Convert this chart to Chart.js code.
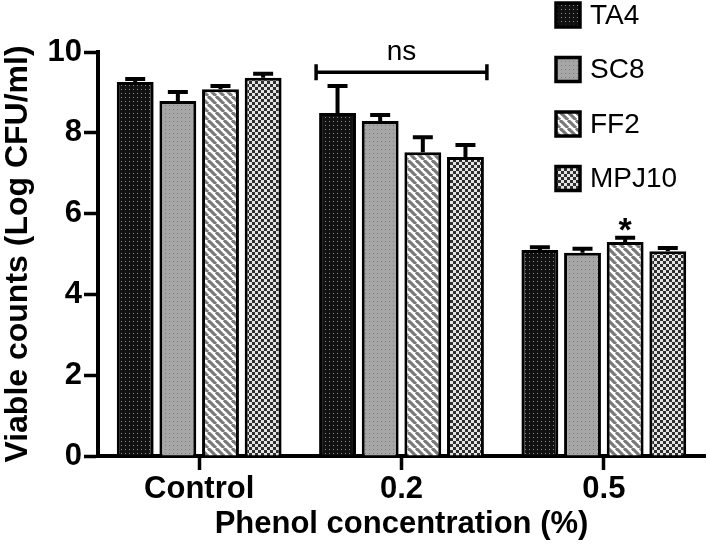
<!DOCTYPE html>
<html>
<head>
<meta charset="utf-8">
<script src="https://cdn.jsdelivr.net/npm/chart.js@4.4.0/dist/chart.umd.min.js"></script>
<style>
html, body { margin: 0; padding: 0; background: #fff; }
</style>
</head>
<body>
<canvas id="viableChart" width="709" height="555"></canvas>
<script>
// data
const categories = ['Control', '0.2', '0.5'];
const strains = ['TA4', 'SC8', 'FF2', 'MPJ10'];
const ta4 = [9.26, 8.49, 5.10];
const sc8 = [8.79, 8.29, 5.03];
const ff2 = [9.08, 7.52, 5.30];
const mpj10 = [9.36, 7.40, 5.07];
const ta4Err = [0.07, 0.67, 0.07];
const sc8Err = [0.22, 0.15, 0.10];
const ff2Err = [0.08, 0.37, 0.10];
const mpj10Err = [0.10, 0.30, 0.08];
const yTicks = [0, 2, 4, 6, 8, 10];

const FONT = '"Liberation Sans", Arial, sans-serif';
const canvas = document.getElementById('viableChart');
const ctx = canvas.getContext('2d');

function makePattern(size, draw) {
    const c = document.createElement('canvas');
    c.width = size;
    c.height = size;
    draw(c.getContext('2d'), size);
    return ctx.createPattern(c, 'repeat');
}

const dotsDark = makePattern(4, (g) => {
    g.fillStyle = '#111';
    g.fillRect(0, 0, 4, 4);
    g.fillStyle = '#8c8c8c';
    g.fillRect(1, 1, 1, 1);
});
const dotsGray = makePattern(4, (g) => {
    g.fillStyle = '#a6a6a6';
    g.fillRect(0, 0, 4, 4);
    g.fillStyle = '#7c7c7c';
    g.fillRect(1, 1, 1, 1);
});
const stripes = makePattern(8, (g, s) => {
    g.fillStyle = '#fff';
    g.fillRect(0, 0, s, s);
    g.strokeStyle = '#7a7a7a';
    g.lineWidth = 3.2;
    for (let k = -1; k <= 1; k++) {
        g.beginPath();
        g.moveTo(k * s, 0);
        g.lineTo(k * s + s, s);
        g.stroke();
    }
});
const checker = makePattern(6, (g) => {
    g.fillStyle = '#e4e4e4';
    g.fillRect(0, 0, 6, 6);
    g.fillStyle = '#2f2f2f';
    g.fillRect(0, 0, 3, 3);
    g.fillRect(3, 3, 3, 3);
});

const seriesValues = [ta4, sc8, ff2, mpj10];
const seriesErrors = [ta4Err, sc8Err, ff2Err, mpj10Err];
const fills = [dotsDark, dotsGray, stripes, checker];

// upper error bars with caps
const errorBars = {
    id: 'errorBars',
    afterDatasetsDraw(chart) {
        const y = chart.scales.y;
        const c = chart.ctx;
        c.save();
        c.strokeStyle = '#000';
        c.lineWidth = 4;
        chart.data.datasets.forEach((ds, i) => {
            chart.getDatasetMeta(i).data.forEach((bar, j) => {
                const top = y.getPixelForValue(ds.data[j] + seriesErrors[i][j]);
                c.beginPath();
                c.moveTo(bar.x, bar.y);
                c.lineTo(bar.x, top);
                c.moveTo(bar.x - 10, top);
                c.lineTo(bar.x + 10, top);
                c.stroke();
            });
        });
        c.restore();
    }
};

// "ns" bracket over 0.2 and asterisk over FF2 at 0.5
const marks = {
    id: 'marks',
    afterDatasetsDraw(chart) {
        const y = chart.scales.y;
        const c = chart.ctx;
        const first = chart.getDatasetMeta(0).data[1];
        const last = chart.getDatasetMeta(3).data[1];
        const x1 = first.x - first.width / 2 - 3;
        const x2 = last.x + last.width / 2 + 3;
        const by = y.getPixelForValue(9.5);
        c.save();
        c.strokeStyle = '#000';
        c.lineWidth = 3.5;
        c.beginPath();
        c.moveTo(x1, by);
        c.lineTo(x2, by);
        c.moveTo(x1, by - 8);
        c.lineTo(x1, by + 8);
        c.moveTo(x2, by - 8);
        c.lineTo(x2, by + 8);
        c.stroke();
        c.fillStyle = '#000';
        c.textAlign = 'center';
        c.textBaseline = 'alphabetic';
        c.font = '28px ' + FONT;
        c.fillText('ns', (x1 + x2) / 2, y.getPixelForValue(9.8));
        const star = chart.getDatasetMeta(2).data[2];
        c.font = 'bold 34px ' + FONT;
        c.fillText('*', star.x, y.getPixelForValue(5.33));
        c.restore();
    }
};

// vertical legend in the top right corner
const sideLegend = {
    id: 'sideLegend',
    afterDraw(chart) {
        const c = chart.ctx;
        c.save();
        c.font = '28px ' + FONT;
        c.textBaseline = 'middle';
        c.textAlign = 'left';
        chart.data.datasets.forEach((ds, i) => {
            const top = 3 + i * 54.5;
            c.fillStyle = ds.backgroundColor;
            c.fillRect(556, top, 24, 24);
            c.strokeStyle = '#000';
            c.lineWidth = 3.5;
            c.strokeRect(556, top, 24, 24);
            c.fillStyle = '#000';
            c.fillText(ds.label, 590, top + 13);
        });
        c.restore();
    }
};

new Chart(ctx, {
    type: 'bar',
    data: {
        labels: categories,
        datasets: strains.map((name, i) => ({
            label: name,
            data: seriesValues[i],
            backgroundColor: fills[i],
            borderColor: '#000',
            borderWidth: 3
        }))
    },
    options: {
        responsive: false,
        animation: false,
        layout: { padding: { top: 52, right: 4, left: 0, bottom: 0 } },
        datasets: { bar: { categoryPercentage: 0.843, barPercentage: 0.865 } },
        plugins: { legend: { display: false }, tooltip: { enabled: false } },
        scales: {
            x: {
                offset: true,
                grid: { offset: false, drawOnChartArea: false, tickLength: 14, tickWidth: 3.5, tickColor: '#000' },
                border: { color: '#000', width: 4 },
                ticks: { color: '#000', padding: 1, font: { family: FONT, size: 31, weight: 'bold' } },
                title: {
                    display: true, text: 'Phenol concentration (%)', color: '#000',
                    font: { family: FONT, size: 31, weight: 'bold', lineHeight: 1 },
                    padding: { top: 0, bottom: 15 }
                },
                afterFit(s) { s.height = 99; }
            },
            y: {
                min: 0,
                max: 10,
                afterBuildTicks(s) { s.ticks = yTicks.map(v => ({ value: v })); },
                grid: { drawOnChartArea: false, tickLength: 14, tickWidth: 3.5, tickColor: '#000' },
                border: { color: '#000', width: 4 },
                ticks: { color: '#000', padding: 2, font: { family: FONT, size: 31, weight: 'bold' } },
                title: {
                    display: true, text: 'Viable counts (Log CFU/ml)', color: '#000',
                    font: { family: FONT, size: 32, weight: 'bold', lineHeight: 1 },
                    padding: { top: 2, bottom: 0 }
                },
                afterFit(s) { s.width = 98; }
            }
        }
    },
    plugins: [errorBars, marks, sideLegend]
});
</script>
</body>
</html>
